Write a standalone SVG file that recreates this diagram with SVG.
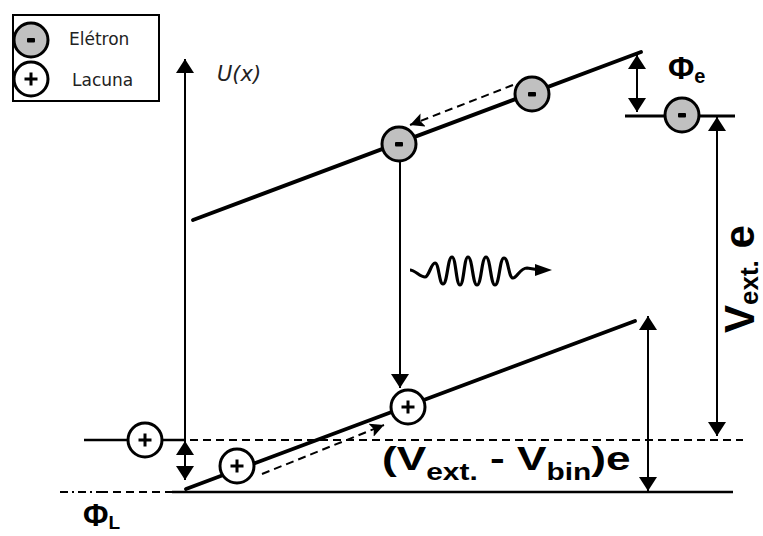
<svg xmlns="http://www.w3.org/2000/svg" width="763" height="536" viewBox="0 0 763 536">
<style>
  .band{stroke:#000;stroke-width:3.8;fill:none;stroke-linecap:round}
  .thin{stroke:#000;stroke-width:2;fill:none}
  .dash{stroke:#000;stroke-width:2;fill:none;stroke-dasharray:8 5}
  .el{fill:#c0c0c0;stroke:#000;stroke-width:3}
  .ho{fill:#fff;stroke:#000;stroke-width:3}
  .sign{stroke:#000;stroke-width:3;fill:none}
  .lbl{font-family:"Liberation Sans",Arial,sans-serif;font-weight:bold;fill:#000}
  .leg{font-family:"DejaVu Sans",Verdana,sans-serif;font-size:17px;fill:#222}
</style>
<defs>
  <marker id="ah" viewBox="0 0 14 18" refX="14" refY="9" markerWidth="14" markerHeight="18" markerUnits="userSpaceOnUse" orient="auto-start-reverse">
    <path d="M0,0 L14,9 L0,18 z" fill="#000"/>
  </marker>
  <marker id="dh" viewBox="0 0 14 14" refX="14" refY="7" markerWidth="14" markerHeight="14" markerUnits="userSpaceOnUse" orient="auto">
    <path d="M0,0 L14,7 L0,14 L3,7 z" fill="#000"/>
  </marker>
</defs>
<rect width="763" height="536" fill="#fff"/>

<!-- legend -->
<g id="legend">
  <rect x="13" y="15" width="146" height="86" fill="#fff" stroke="#000" stroke-width="2"/>
  <circle cx="31" cy="40" r="17" class="el"/>
  <rect x="27" y="38" width="8" height="4.5" rx="1" fill="#000"/>
  <circle cx="31" cy="79" r="17" class="ho"/>
  <path d="M24.5,79 H37.5 M31,72.5 V85.5" class="sign"/>
  <text x="69" y="45" class="leg">Elétron</text>
  <text x="72" y="86" class="leg">Lacuna</text>
</g>

<!-- connectors / lines -->
<g id="connectors">
  <!-- bands -->
  <line x1="193" y1="220" x2="641" y2="52" class="band"/>
  <line x1="186" y1="489" x2="635" y2="321" class="band"/>
  <!-- levels -->
  <line x1="625" y1="116" x2="735" y2="116" stroke="#000" stroke-width="3"/>
  <line x1="84" y1="440" x2="186" y2="440" stroke="#000" stroke-width="2.5"/>
  <line x1="190" y1="440" x2="743" y2="440" class="dash"/>
  <line x1="60" y1="492" x2="100" y2="492" stroke="#000" stroke-width="2" stroke-dasharray="8 4 2 4"/>
  <line x1="100" y1="492" x2="172" y2="492" class="dash"/>
  <line x1="172" y1="492" x2="733" y2="492" stroke="#000" stroke-width="2.5"/>
  <!-- axis -->
  <line x1="185" y1="441" x2="185" y2="59" class="thin" marker-end="url(#ah)"/>
  <!-- Phi_L -->
  <line x1="185" y1="441" x2="185" y2="480" class="thin" marker-start="url(#ah)" marker-end="url(#ah)"/>
  <!-- Phi_e -->
  <line x1="637" y1="55" x2="637" y2="112" class="thin" marker-start="url(#ah)" marker-end="url(#ah)"/>
  <!-- Vext e -->
  <line x1="717" y1="117" x2="717" y2="436" class="thin" marker-start="url(#ah)" marker-end="url(#ah)"/>
  <!-- (Vext-Vbin)e -->
  <line x1="648" y1="316" x2="648" y2="491" class="thin" marker-start="url(#ah)" marker-end="url(#ah)"/>
  <!-- recombination -->
  <line x1="400" y1="161" x2="400" y2="388" class="thin" marker-end="url(#ah)"/>
  <!-- drift arrows -->
  <line x1="513" y1="85" x2="410" y2="125" class="dash" marker-end="url(#dh)"/>
  <line x1="262" y1="474" x2="384" y2="425" class="dash" marker-end="url(#dh)"/>
  <!-- photon -->
  <path d="M410,270 C415,270 420,277 425,277 C429,277 431,263 435,263 C439,263 439,284 443,284 C447.5,284 447.5,257 452,257 C456,257 456,285 460,285 C464,285 464,257 468,257 C472.5,257 472.5,285 477,285 C481.5,285 481.5,257 486,257 C490.5,257 490.5,285 495,285 C499.5,285 499.5,258 504,258 C508.5,258 508.5,278 513,278 C517,278 520,268 527,268 L540,270" stroke="#000" stroke-width="3.2" fill="none"/>
  <polygon points="535,264 552,270 535,276" fill="#000"/>
</g>

<!-- electrons -->
<g id="electron1">
  <circle cx="532" cy="94" r="17" class="el"/>
  <rect x="528" y="92" width="8" height="4.5" rx="1" fill="#000"/>
</g>
<g id="electron2">
  <circle cx="399" cy="144" r="17" class="el"/>
  <rect x="395" y="142" width="8" height="4.5" rx="1" fill="#000"/>
</g>
<g id="electron3">
  <circle cx="682" cy="115" r="17" class="el"/>
  <rect x="678" y="113" width="8" height="4.5" rx="1" fill="#000"/>
</g>

<!-- holes -->
<g id="hole1">
  <circle cx="145" cy="440" r="17" class="ho"/>
  <path d="M138.5,440 H151.5 M145,433.5 V446.5" class="sign"/>
</g>
<g id="hole2">
  <circle cx="237" cy="466" r="17" class="ho"/>
  <path d="M230.5,466 H243.5 M237,459.5 V472.5" class="sign"/>
</g>
<g id="hole3">
  <circle cx="408" cy="407" r="17" class="ho"/>
  <path d="M401.5,407 H414.5 M408,400.5 V413.5" class="sign"/>
</g>

<!-- labels -->
<g id="labels">
  <text x="217" y="81" font-family="DejaVu Sans,Verdana,sans-serif" font-style="italic" font-size="21" fill="#222">U(x)</text>
  <text x="668" y="79" class="lbl" font-size="32">Φ<tspan font-size="20" dy="4">e</tspan></text>
  <text x="83" y="526" class="lbl" font-size="31">Φ<tspan font-size="19" dy="3">L</tspan></text>
  <text transform="translate(382,470) scale(1.3,1)" class="lbl" font-size="34">(V<tspan font-size="23" dy="10">ext.</tspan><tspan dy="-10"> - V</tspan><tspan font-size="23" dy="10">bin</tspan><tspan dy="-10">)e</tspan></text>
  <text transform="translate(754,333) rotate(-90)" class="lbl" font-size="42">V<tspan font-size="26" dy="4">ext.</tspan><tspan dy="-4"> e</tspan></text>
</g>
</svg>
